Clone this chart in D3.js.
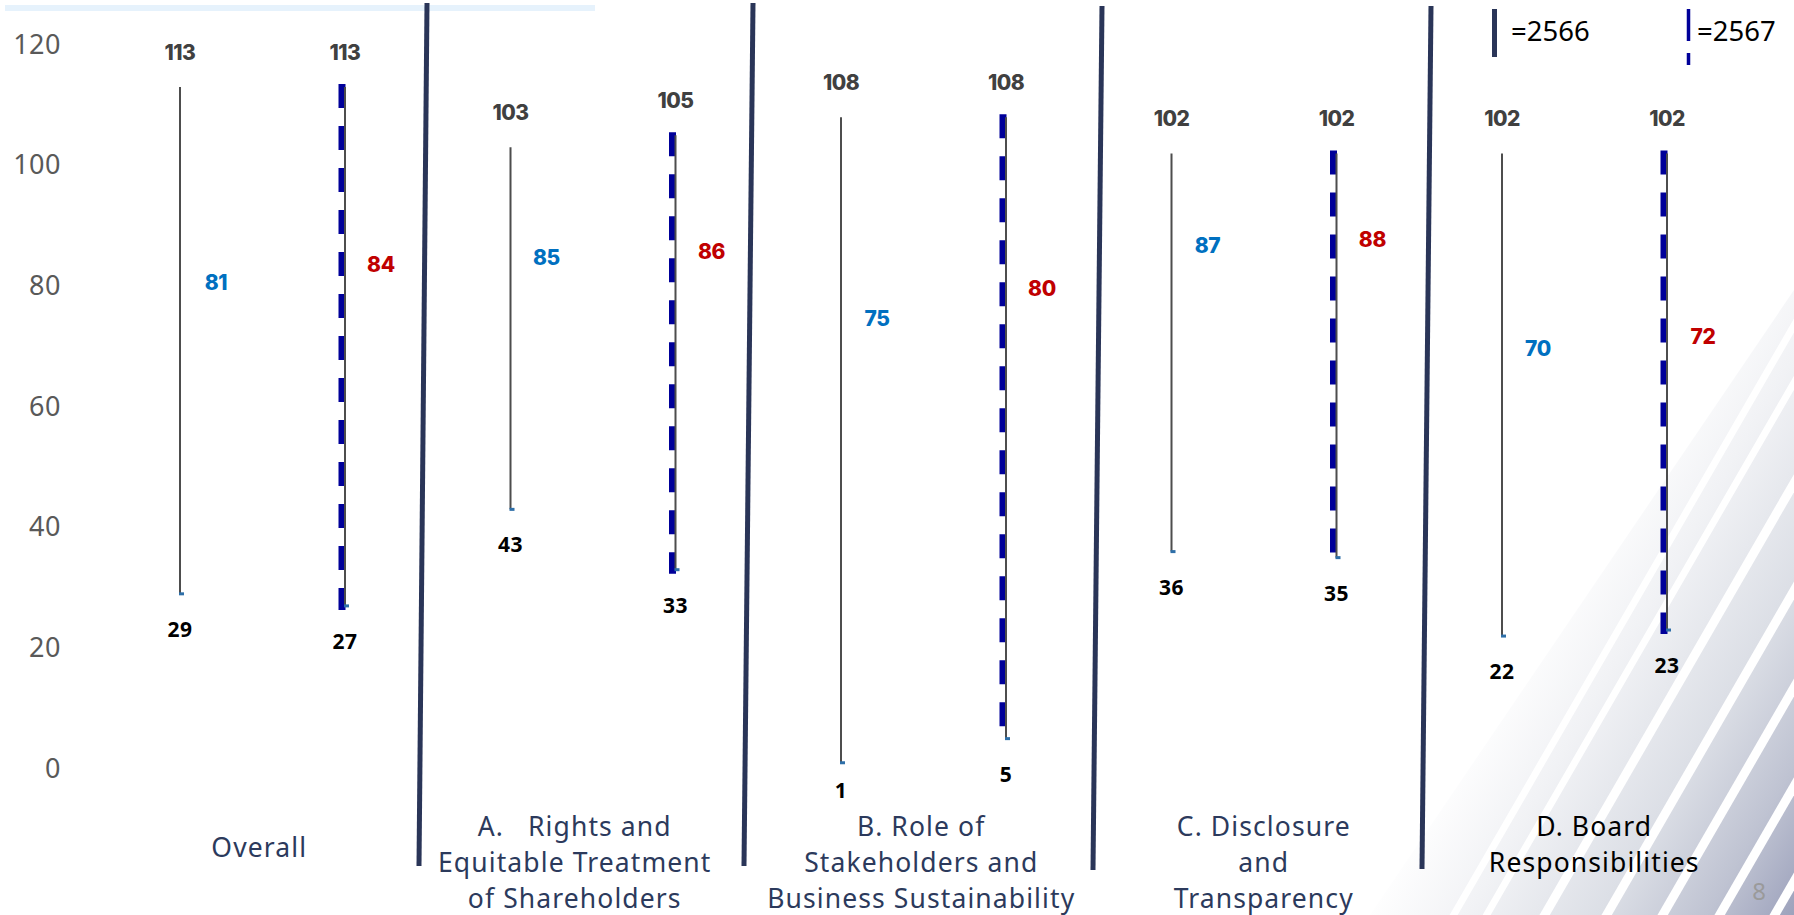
<!DOCTYPE html>
<html><head><meta charset="utf-8">
<script src="https://cdn.jsdelivr.net/npm/d3@7"></script>
<style>body{margin:0;background:#fff;} svg{display:block}</style>
</head><body>
<svg id="chart" width="1794" height="915"></svg>
<script>
// ---------- data ----------
const categories = ["Overall", "A", "B", "C", "D"];
const categoryLabels = [
  ["Overall"],
  ["A.   Rights and", "Equitable Treatment", "of Shareholders"],
  ["B. Role of", "Stakeholders and", "Business Sustainability"],
  ["C. Disclosure", "and", "Transparency"],
  ["D. Board", "Responsibilities"]
];
const years = ["2566", "2567"];
const max2566 = [113, 103, 108, 102, 102];
const min2566 = [29, 43, 1, 36, 22];
const avg2566 = [81, 85, 75, 87, 70];
const max2567 = [113, 105, 108, 102, 102];
const min2567 = [27, 33, 5, 35, 23];
const avg2567 = [84, 86, 80, 88, 72];
const yTicks = [0, 20, 40, 60, 80, 100, 120];
const legendLabels = ["=2566", "=2567"];

// ---------- layout ----------
const W = 1794, H = 915;
const svg = d3.select("#chart");
const x = d3.scaleBand().domain(categories).range([97, 97 + 330.5 * 5]).padding(0);
const xSub = d3.scalePoint().domain(years).range([83, 248]);
const y = d3.scaleLinear().domain([0, 120]).range([768.8, 44.8]);
const catLabelDx = [-3, -18, -2, 10, 10];
const dividerLines = [[427, 3, 419, 866], [753, 3, 744, 866], [1102, 6, 1093, 870], [1431, 6, 1422, 869]];

// ---------- background decoration ----------
const defs = svg.append("defs");
const grad = defs.append("linearGradient").attr("id", "bgGrad")
  .attr("gradientUnits", "userSpaceOnUse")
  .attr("x1", 1470).attr("y1", 727).attr("x2", 1794).attr("y2", 915);
[[0, "#ffffff"], [0.25, "#f1f2f5"], [0.55, "#dcdfe6"], [0.8, "#bfc3d2"], [1, "#9da2bc"]]
  .forEach(([o, c]) => grad.append("stop").attr("offset", o).attr("stop-color", c));
defs.append("clipPath").attr("id", "triClip").append("polygon")
  .attr("points", "1370,915 1794,915 1794,290");
const deco = svg.append("g").attr("clip-path", "url(#triClip)");
deco.append("rect").attr("x", 1300).attr("y", 200).attr("width", 500).attr("height", 720).attr("fill", "url(#bgGrad)");
const stripeBases = [1445, 1478, 1536, 1598, 1654, 1711, 1766];
deco.selectAll("line.stripe").data(stripeBases).join("line")
  .attr("x1", d => d).attr("y1", 930)
  .attr("x2", d => d + 500).attr("y2", 930 - 866)
  .attr("stroke", "#ffffff").attr("stroke-width", (d, i) => i < 2 ? 7 : 9);

svg.append("rect").attr("x", 5).attr("y", 5).attr("width", 590).attr("height", 6).attr("fill", "#e6f2fc");

// ---------- dividers ----------
svg.selectAll("line.divider").data(dividerLines).join("line")
  .attr("x1", d => d[0]).attr("y1", d => d[1]).attr("x2", d => d[2]).attr("y2", d => d[3])
  .attr("stroke", "#2a3558").attr("stroke-width", 5);

// ---------- y axis labels ----------
svg.selectAll("text.ytick").data(yTicks).join("text")
  .attr("x", 61).attr("y", d => y(d) - 1.5)
  .attr("text-anchor", "end").attr("dominant-baseline", "central")
  .attr("font-family", "'Noto Sans', sans-serif").attr("font-size", 27)
  .attr("letter-spacing", 0.5)
  .attr("fill", "#595959").text(d => d);

// ---------- series ----------
const series = [
  { year: "2566", max: max2566, min: min2566, avg: avg2566, avgColor: "#0070c0" },
  { year: "2567", max: max2567, min: min2567, avg: avg2567, avgColor: "#c00000" }
];
const g = svg.append("g");
series.forEach(s => {
  categories.forEach((c, i) => {
    const cx = x(c) + xSub(s.year);
    const yTop = y(s.max[i]), yBot = y(s.min[i]);
    if (s.year === "2567") {
      g.append("line").attr("x1", cx - 3).attr("x2", cx - 3)
        .attr("y1", yTop - 3).attr("y2", yBot + 4)
        .attr("stroke", "#000099").attr("stroke-width", 7)
        .attr("stroke-dasharray", "24 18");
    }
    g.append("line").attr("x1", cx).attr("x2", cx).attr("y1", yTop).attr("y2", yBot)
      .attr("stroke", "#4d4d4d").attr("stroke-width", 2);
    g.append("rect").attr("x", cx - 1).attr("y", yBot - 1.5).attr("width", 5).attr("height", 3)
      .attr("fill", "#2e6fa8");
    // max label
    g.append("text").attr("x", cx).attr("y", yTop - 27.5).attr("text-anchor", "middle")
      .attr("font-family", "Inter, 'Open Sans', sans-serif").attr("font-weight", 800)
      .attr("font-size", 21).attr("letter-spacing", -0.5).attr("fill", "#404040").text(s.max[i]);
    // min label
    g.append("text").attr("x", cx).attr("y", Math.min(yBot + 43, 798)).attr("text-anchor", "middle")
      .attr("font-family", "'Noto Sans', sans-serif").attr("font-weight", 700)
      .attr("font-size", 21).attr("letter-spacing", 0.5).attr("fill", "#000000").text(s.min[i]);
    // avg label
    g.append("text").attr("x", cx + 36).attr("y", y(s.avg[i]) + 2).attr("text-anchor", "middle")
      .attr("dominant-baseline", "central")
      .attr("font-family", "Inter, 'Open Sans', sans-serif").attr("font-weight", 800)
      .attr("font-size", 21).attr("letter-spacing", -0.3).attr("fill", s.avgColor).text(s.avg[i]);
  });
});

// ---------- category labels ----------
categories.forEach((c, i) => {
  const lines = categoryLabels[i];
  const first = lines.length === 1 ? 857 : 836;
  const t = svg.append("text").attr("text-anchor", "middle")
    .attr("font-family", "'Noto Sans', sans-serif").attr("font-size", 26.5)
    .attr("letter-spacing", 1.1)
    .attr("fill", c === "D" ? "#000000" : "#2c3a5c")
    .style("white-space", "pre");
  lines.forEach((ln, k) => {
    t.append("tspan").attr("x", x(c) + x.bandwidth() / 2 + catLabelDx[i])
      .attr("y", first + k * 36).text(ln);
  });
});

// ---------- legend ----------
svg.append("line").attr("x1", 1494.5).attr("x2", 1494.5).attr("y1", 9).attr("y2", 57)
  .attr("stroke", "#2a3558").attr("stroke-width", 5);
svg.append("line").attr("x1", 1688.5).attr("x2", 1688.5).attr("y1", 9).attr("y2", 65)
  .attr("stroke", "#000099").attr("stroke-width", 3.5).attr("stroke-dasharray", "32 12");
[1511, 1697].forEach((lx, i) => {
  svg.append("text").attr("x", lx).attr("y", 41)
    .attr("font-family", "'Noto Sans', sans-serif").attr("font-size", 27.5)
    .attr("fill", "#000000").text(legendLabels[i]);
});

// page number
svg.append("text").attr("x", 1759).attr("y", 900).attr("text-anchor", "middle")
  .attr("font-family", "'Noto Sans', sans-serif").attr("font-size", 24)
  .attr("fill", "#9a9a9a").text("8");
</script>
</body></html>
